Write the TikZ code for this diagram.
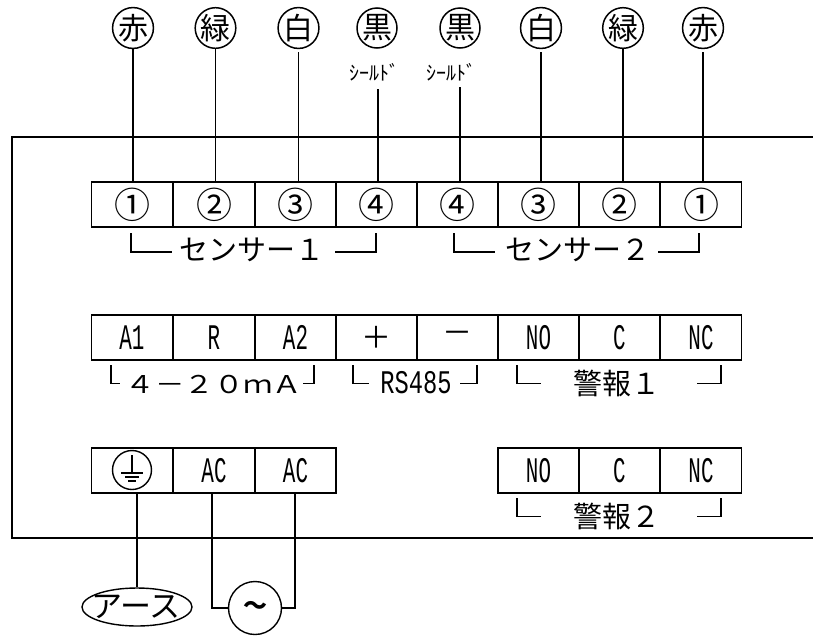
\documentclass[tikz,border=0pt]{standalone}
\usepackage{fontspec}
\setmainfont{Noto Sans CJK JP}
\newfontfamily\termfont[FakeStretch=0.58]{Liberation Mono}
\newfontfamily\wideterm[FakeStretch=0.72]{Liberation Mono}
\newfontfamily\widefont[FakeStretch=1.2]{Noto Sans CJK JP}
\usetikzlibrary{shapes.geometric}
\tikzset{
  term/.style={draw, line width=1.9pt, minimum width=81pt, minimum height=45pt, inner sep=0pt, font=\fontsize{36}{36}\selectfont},
  latin/.style={term, font=\termfont\fontsize{36}{36}\selectfont},
  colour/.style={draw, circle, line width=1.5pt, minimum size=38pt, inner sep=0pt, font=\fontsize{30}{30}\selectfont},
  wire/.style={line width=1.6pt},
  bracket/.style={line width=1.4pt},
  caption/.style={inner sep=0pt, font=\fontsize{29}{29}\selectfont},
  shield/.style={inner sep=0pt, font=\fontsize{20}{20}\selectfont}
}
\begin{document}
\begin{tikzpicture}[x=1pt, y=-1pt]
\useasboundingbox (0,0) rectangle (813,635);
% case outline
\draw[line width=2pt] (813,137) -- (12,137) -- (12,538) -- (813,538);
% sensor terminals
\node[term] (sa1) at (132,204.5) {①};
\node[term] (sa2) at (214,204.5) {②};
\node[term] (sa3) at (295.5,204.5) {③};
\node[term] (sa4) at (376.5,204.5) {④};
\node[term] (sb4) at (457.5,204.5) {④};
\node[term] (sb3) at (538.5,204.5) {③};
\node[term] (sb2) at (619.5,204.5) {②};
\node[term] (sb1) at (701,204.5) {①};
% signal terminals
\node[latin] (a1) at (132,337.5) {A1};
\node[latin] (r) at (214,337.5) {R};
\node[latin] (a2) at (295.5,337.5) {A2};
\node[term, font=\fontsize{30}{30}\selectfont] (plus) at (376.5,337.5) {＋};
\node[term, font=\fontsize{30}{30}\selectfont] (minus) at (457.5,337.5) {－};
\node[latin] (no1) at (538.5,337.5) {NO};
\node[latin] (c1) at (619.5,337.5) {C};
\node[latin] (nc1) at (701,337.5) {NC};
% power terminals
\node[term] (pe) at (132,470.5) {};
\node[latin] (ac1) at (214,470.5) {AC};
\node[latin] (ac2) at (295.5,470.5) {AC};
\node[latin] (no2) at (538.5,470.5) {NO};
\node[latin] (c2) at (619.5,470.5) {C};
\node[latin] (nc2) at (701,470.5) {NC};
% cable colours
\node[colour] (redA) at (133,28) {赤};
\node[colour] (grnA) at (215.5,28) {緑};
\node[colour] (whtA) at (298.5,28) {白};
\node[colour] (blkA) at (377,28) {黒};
\node[colour] (blkB) at (460,28) {黒};
\node[colour] (whtB) at (541,28) {白};
\node[colour] (grnB) at (623,28) {緑};
\node[colour] (redB) at (703,28) {赤};
\node[shield] (shdA) at (374,72) {ｼｰﾙﾄﾞ};
\node[shield] (shdB) at (451,72) {ｼｰﾙﾄﾞ};
\coordinate (topA) at (378,89);
\coordinate (topB) at (460,87);
\draw[wire] (redA.south) -- (sa1.north -| redA.south);
\draw[wire] (grnA.south) -- (sa2.north -| grnA.south);
\draw[wire] ([yshift=-3pt]whtA.south) -- (sa3.north -| whtA.south);
\draw[wire] (topA) -- (sa4.north -| topA);
\draw[wire] (topB) -- (sb4.north -| topB);
\draw[wire] ([yshift=-3pt]whtB.south) -- (sb3.north -| whtB.south);
\draw[wire] (grnB.south) -- (sb2.north -| grnB.south);
\draw[wire] ([yshift=-3pt]redB.south) -- (sb1.north -| redB.south);
% captions
\node[caption] (capA) at (251.5,250) {センサー１};
\node[caption] (capB) at (577.5,250) {センサー２};
\draw[bracket] (131,233) -- (131,252) -- (172,252);
\draw[bracket] (335,252) -- (376,252) -- (376,233);
\draw[bracket] (454,233) -- (454,252) -- (495,252);
\draw[bracket] (658,252) -- (699,252) -- (699,233);
\node[caption, font=\widefont\fontsize{24.5}{24.5}\selectfont] (capC) at (214,384) {４－２０ｍＡ};
\node[caption, font=\wideterm\fontsize{33}{33}\selectfont] (capD) at (416,383) {RS485};
\node[caption] (capE) at (616.5,383) {警報１};
\node[caption] (capF) at (616.5,516) {警報２};
\draw[bracket] (111,365) -- (111,383.5) -- (120,383.5);
\draw[bracket] (303,383.5) -- (314,383.5) -- (314,365);
\draw[bracket] (353,365) -- (353,383.5) -- (369,383.5);
\draw[bracket] (460,383.5) -- (477,383.5) -- (477,365);
\draw[bracket] (517,365) -- (517,383.5) -- (541,383.5);
\draw[bracket] (697,383.5) -- (721,383.5) -- (721,365);
\draw[bracket] (517,498) -- (517,516.5) -- (541,516.5);
\draw[bracket] (697,516.5) -- (721,516.5) -- (721,498);
% earth mark
\node[draw, circle, line width=1.4pt, minimum size=39pt, inner sep=0pt] (gnd) at (132,470) {};
\draw[line width=1.2pt] (132,455) -- (132,473);
\draw[line width=1.2pt] (121,473) -- (143,473);
\draw[line width=1.2pt] (125,477) -- (139,477);
\draw[line width=1.2pt] (128,481) -- (136,481);
% supply
\node[draw, ellipse, line width=1.4pt, minimum width=110pt, minimum height=38pt, inner sep=0pt] (earth) at (137,607) {};
\node[inner sep=0pt, font=\fontsize{31}{31}\selectfont] (earthtxt) at (136,607) {アース};
\node[draw, circle, line width=1.4pt, minimum size=53pt, inner sep=0pt, font=\bfseries\fontsize{24}{24}\selectfont] (ac) at (255,608) {～};
\draw[wire] (pe.south -| earth.north) -- (earth.north);
\draw[wire] (ac1.south -| 212,0) |- (ac.west);
\draw[wire] (ac2.south -| 295,0) |- (ac.east);
\end{tikzpicture}
\end{document}
